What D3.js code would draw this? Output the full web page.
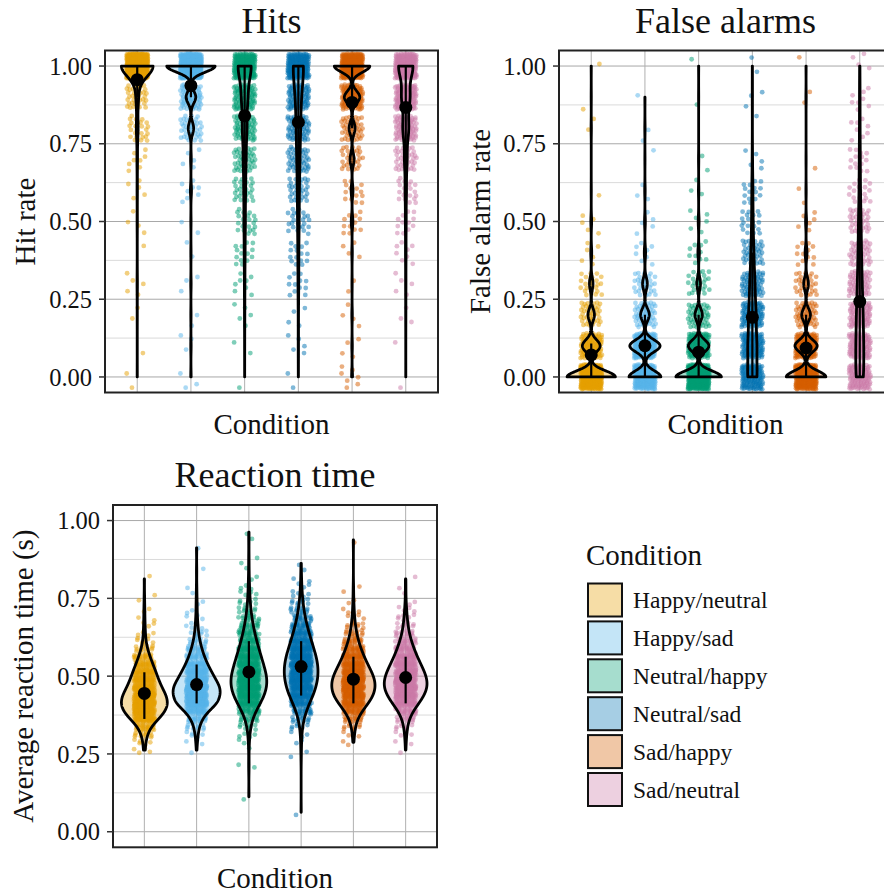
<!DOCTYPE html>
<html><head><meta charset="utf-8">
<script src="https://cdn.jsdelivr.net/npm/d3@7"></script>
<style>
body{margin:0;background:#fff}
text{font-family:"Liberation Serif","Times New Roman",serif;fill:#111}
</style>
</head><body>
<svg id="chart" width="884" height="895"></svg>
<script>
// ---------------- data ----------------
const conditions = ["Happy/neutral","Happy/sad","Neutral/happy","Neutral/sad","Sad/happy","Sad/neutral"];
const colors = ["#E69F00","#56B4E9","#009E73","#0072B2","#D55E00","#CC79A7"];

// proportion levels for hit / false-alarm rates
const rateLevels = [0,0.1,0.2,0.3,0.4,0.5,0.6,0.7,0.8,0.9,1.0];

// number of observations at each rate level (0 -> 1), one row per condition
const hitCounts = [
  [2,1,2,5,1,4,5,8,25,35,450],
  [3,3,2,3,2,2,8,5,40,72,360],
  [1,2,5,8,14,22,28,45,70,95,210],
  [2,5,4,12,15,25,32,50,70,90,195],
  [7,4,4,2,4,12,14,30,45,115,265],
  [1,1,3,5,8,12,20,38,85,120,210]
];
const faCounts = [
  [300,110,40,22,6,5,1,0,2,1,1],
  [200,190,55,30,8,5,3,1,2,1,0],
  [310,140,50,25,10,6,3,2,0,1,1],
  [130,120,100,70,40,20,15,5,1,3,2],
  [250,140,55,30,12,6,2,1,0,2,1],
  [110,105,90,65,45,35,18,14,8,8,4]
];

// reaction times, recorded to the nearest 0.025 s (bin centres)
const rtLevels = [0.0125,0.0375,0.0625,0.0875,0.1125,0.1375,0.1625,0.1875,0.2125,0.2375,
  0.2625,0.2875,0.3125,0.3375,0.3625,0.3875,0.4125,0.4375,0.4625,0.4875,
  0.5125,0.5375,0.5625,0.5875,0.6125,0.6375,0.6625,0.6875,0.7125,0.7375,
  0.7625,0.7875,0.8125,0.8375,0.8625,0.8875,0.9125,0.9375,0.9625,0.9875];
const rtCounts = [
  [0,0,0,0,0,0,0,0,0,0, 4,5,12,25,55,82,92,85,68,55, 45,33,22,12,6,4,3,2,2,1, 1,0,1,0,0,0,0,0,0,0],
  [0,0,0,0,0,0,0,0,0,0, 1,3,5,10,20,42,78,85,88,70, 55,40,28,19,12,7,5,3,2,2, 1,1,0,1,0,0,1,0,0,0],
  [0,0,0,0,1,0,0,0,2,0, 1,2,4,8,16,30,50,68,78,81, 74,64,54,44,34,26,19,13,9,6, 4,3,2,1,1,1,0,1,1,0],
  [0,0,1,0,0,0,0,0,0,1, 1,2,3,6,12,22,36,52,64,72, 75,73,66,56,45,35,26,18,12,8, 5,3,2,1,1,0,0,0,0,0],
  [0,0,0,0,0,0,0,0,0,0, 0,2,4,8,16,34,58,78,86,84, 72,56,42,30,20,13,8,5,3,2, 1,1,0,0,0,0,0,1,0,0],
  [0,0,0,0,0,0,0,0,0,0, 1,2,4,7,14,28,50,70,82,82, 72,58,44,32,22,14,9,6,4,2, 1,1,1,0,0,0,0,0,0,0]
];

const yTicks = [0,0.25,0.5,0.75,1];
const yMinorTicks = [0.125,0.375,0.625,0.875];
const yTickLabels = ["0.00","0.25","0.50","0.75","1.00"];

// ---------------- layout ----------------
const panels = [
  {title:"Hits", ytitle:"Hit rate", counts:hitCounts, levels:rateLevels, res:0.1,
   x0:105, x1:438, y0:50.5, y1:392.5, titleY:33, xtitleY:434, ytitleX:35, vw:0.9},
  {title:"False alarms", ytitle:"False alarm rate", counts:faCounts, levels:rateLevels, res:0.1,
   x0:559, x1:892, y0:50.5, y1:392.5, titleY:33, xtitleY:434, ytitleX:490, vw:0.9},
  {title:"Reaction time", ytitle:"Average reaction time (s)", counts:rtCounts, levels:rtLevels, res:0.025,
   x0:113, x1:437, y0:505, y1:847.3, titleY:487, xtitleY:888, ytitleX:33, vw:0.9}
];

const svg = d3.select("#chart");
const FS_TITLE = 36, FS_AXT = 29, FS_TICK = 24.5, FS_LEG = 23.5;

function frac(v){ return v - Math.floor(v); }

function expand(levels, counts){
  const out = [];
  counts.forEach((c,i)=>{ for(let j=0;j<c;j++) out.push(levels[i]); });
  return out;
}

function bwNrd0(vals){
  const s = vals.slice().sort(d3.ascending);
  const hi = d3.deviation(s);
  let lo = Math.min(hi, (d3.quantile(s,0.75)-d3.quantile(s,0.25))/1.34);
  if(!lo) lo = hi || Math.abs(s[0]) || 1;
  return 0.9*lo*Math.pow(s.length,-0.2);
}

function density(levels, counts, vals){
  const n = d3.sum(counts), bw = bwNrd0(vals);
  const mn = d3.min(vals), mx = d3.max(vals);
  const grid = d3.range(512).map(i => mn + (mx-mn)*i/511);
  const c = 1/(n*bw*Math.sqrt(2*Math.PI));
  return grid.map(y => {
    let s = 0;
    for(let k=0;k<levels.length;k++){
      if(!counts[k]) continue;
      const z = (y-levels[k])/bw;
      s += counts[k]*Math.exp(-0.5*z*z);
    }
    return {y, d: s*c};
  });
}

panels.forEach((P, pi) => {
  const g = svg.append("g");
  const x = d3.scalePoint().domain(conditions).range([P.x0, P.x1]).padding(0.6);
  const step = x.step();
  const y = d3.scaleLinear().domain([-0.05,1.05]).range([P.y1, P.y0]);

  const clipId = "clip"+pi;
  svg.append("clipPath").attr("id",clipId).append("rect")
    .attr("x",P.x0).attr("y",P.y0).attr("width",P.x1-P.x0).attr("height",P.y1-P.y0);

  const plot = g.append("g").attr("clip-path",`url(#${clipId})`);
  // grid
  plot.selectAll(".minor").data(yMinorTicks).join("line")
    .attr("x1",P.x0).attr("x2",P.x1).attr("y1",d=>y(d)).attr("y2",d=>y(d))
    .attr("stroke","#dadada").attr("stroke-width",1);
  plot.selectAll(".major").data(yTicks).join("line")
    .attr("x1",P.x0).attr("x2",P.x1).attr("y1",d=>y(d)).attr("y2",d=>y(d))
    .attr("stroke","#a8a8a8").attr("stroke-width",1);
  plot.selectAll(".vgrid").data(conditions).join("line")
    .attr("x1",d=>x(d)).attr("x2",d=>x(d)).attr("y1",P.y0).attr("y2",P.y1)
    .attr("stroke","#b0b0b0").attr("stroke-width",1);

  // data per group
  const groups = conditions.map((cond,i) => {
    const vals = expand(P.levels, P.counts[i]);
    return {cond, i, vals, dens: density(P.levels, P.counts[i], vals)};
  });
  const maxD = d3.max(groups, gr => d3.max(gr.dens, d => d.d));
  const half = P.vw*step/2;

  function violinPath(gr){
    const cx = x(gr.cond);
    const w = d => d.d/maxD*half;
    const right = gr.dens.map(d => [cx + w(d), y(d.y)]);
    const left = gr.dens.slice().reverse().map(d => [cx - w(d), y(d.y)]);
    return d3.line()(right.concat(left)) + "Z";
  }

  // violin fills
  plot.selectAll(".vfill").data(groups).join("path")
    .attr("d", violinPath)
    .attr("fill", d => colors[d.i]).attr("fill-opacity",0.35).attr("stroke","none");

  // jittered points
  const jw = 0.2*step, jh = 0.4*P.res;
  groups.forEach(gr => {
    plot.append("g").selectAll("circle").data(gr.vals).join("circle")
      .attr("cx",(v,k)=> x(gr.cond) + (frac(0.5 + (k+1)*0.7548776662)*2-1)*jw)
      .attr("cy",(v,k)=> y(v + (frac(0.5 + (k+1)*0.5698402910)*2-1)*jh))
      .attr("r",2.4)
      .attr("fill",colors[gr.i]).attr("fill-opacity",0.5);
  });

  // violin outlines
  plot.selectAll(".vline").data(groups).join("path")
    .attr("d", violinPath)
    .attr("fill","none").attr("stroke","#000").attr("stroke-width",2.8)
    .attr("stroke-linejoin","round");

  // summary: interval + mean
  groups.forEach(gr => {
    const s = gr.vals.slice().sort(d3.ascending);
    const lo = d3.quantile(s,0.16), hi = d3.quantile(s,0.84), m = d3.mean(s);
    plot.append("line").attr("x1",x(gr.cond)).attr("x2",x(gr.cond))
      .attr("y1",y(lo)).attr("y2",y(hi)).attr("stroke","#000").attr("stroke-width",2.2);
    plot.append("circle").attr("cx",x(gr.cond)).attr("cy",y(m)).attr("r",6.5).attr("fill","#000");
  });

  // border
  g.append("rect").attr("x",P.x0).attr("y",P.y0).attr("width",P.x1-P.x0).attr("height",P.y1-P.y0)
    .attr("fill","none").attr("stroke","#222").attr("stroke-width",2);

  // y axis ticks + labels
  const ax = g.append("g");
  ax.selectAll("line").data(yTicks).join("line")
    .attr("x1",P.x0-6).attr("x2",P.x0).attr("y1",d=>y(d)).attr("y2",d=>y(d))
    .attr("stroke","#333").attr("stroke-width",1.5);
  ax.selectAll("text").data(yTicks).join("text")
    .attr("x",P.x0-13).attr("y",d=>y(d)).attr("dy","0.35em")
    .attr("text-anchor","end").attr("font-size",FS_TICK).attr("fill","#222")
    .text((d,i)=>yTickLabels[i]);

  // titles
  const cx = (P.x0+P.x1)/2, cy = (P.y0+P.y1)/2;
  g.append("text").attr("x",cx).attr("y",P.titleY).attr("text-anchor","middle")
    .attr("font-size",FS_TITLE).text(P.title);
  g.append("text").attr("x",cx).attr("y",P.xtitleY).attr("text-anchor","middle")
    .attr("font-size",FS_AXT).text("Condition");
  g.append("text").attr("transform",`translate(${P.ytitleX},${cy}) rotate(-90)`)
    .attr("text-anchor","middle").attr("font-size",FS_AXT).text(P.ytitle);
});

// ---------------- legend ----------------
const leg = svg.append("g");
leg.append("text").attr("x",586).attr("y",565).attr("font-size",FS_AXT).text("Condition");
const ky = d3.scalePoint().domain(conditions).range([583.5, 773]);
leg.selectAll("rect").data(conditions).join("rect")
  .attr("x",588).attr("y",d=>ky(d)).attr("width",34).attr("height",33)
  .attr("fill",(d,i)=>colors[i]).attr("fill-opacity",0.35)
  .attr("stroke","#111").attr("stroke-width",2);
leg.selectAll(".lab").data(conditions).join("text")
  .attr("x",633).attr("y",d=>ky(d)+16.5).attr("dy","0.35em")
  .attr("font-size",FS_LEG).text(d=>d);
</script>
</body></html>
